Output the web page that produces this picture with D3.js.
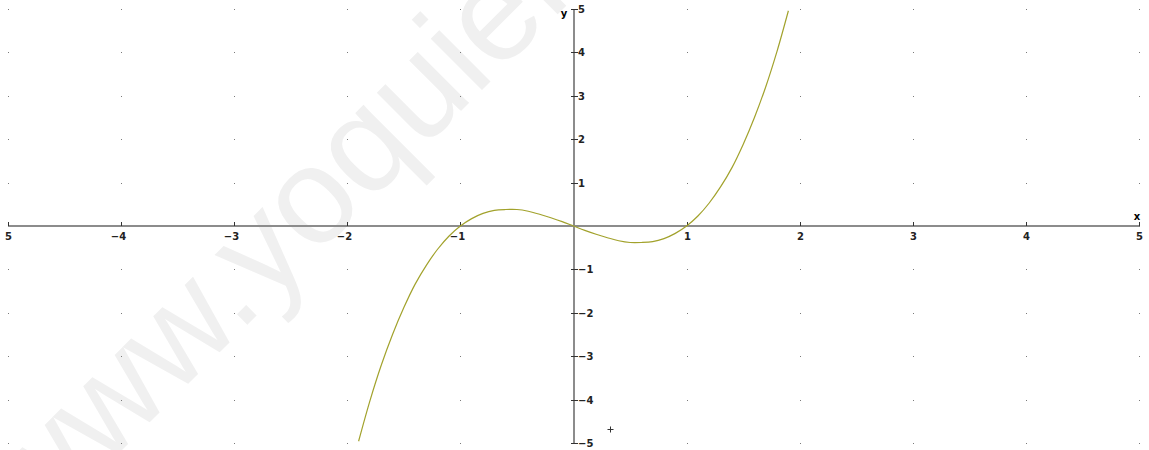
<!DOCTYPE html>
<html>
<head>
<meta charset="utf-8">
<script src="https://cdn.jsdelivr.net/npm/d3@7"></script>
<style>
  body { margin: 0; background: #fff; }
  svg text { font-family: "DejaVu Sans", sans-serif; }
</style>
</head>
<body>
<script>
var curveX = [-1.9, -1.8, -1.7, -1.6, -1.5, -1.4, -1.3, -1.2, -1.1, -1.0,
              -0.9, -0.8, -0.7, -0.6, -0.5, -0.4, -0.3, -0.2, -0.1, 0.0,
              0.1, 0.2, 0.3, 0.4, 0.5, 0.6, 0.7, 0.8, 0.9, 1.0,
              1.1, 1.2, 1.3, 1.4, 1.5, 1.6, 1.7, 1.8, 1.9];
var curveY = [-4.96, -4.03, -3.21, -2.50, -1.88, -1.34, -0.90, -0.53, -0.23, 0.0,
              0.17, 0.29, 0.36, 0.38, 0.38, 0.34, 0.27, 0.19, 0.10, 0.0,
              -0.10, -0.19, -0.27, -0.34, -0.38, -0.38, -0.36, -0.29, -0.17, 0.0,
              0.23, 0.53, 0.90, 1.34, 1.88, 2.50, 3.21, 4.03, 4.96];
var xTicks = [-5, -4, -3, -2, -1, 1, 2, 3, 4, 5];
var yTicks = [-5, -4, -3, -2, -1, 1, 2, 3, 4, 5];
var gridValues = [-5, -4, -3, -2, -1, 0, 1, 2, 3, 4, 5];
var markerPoint = [0.32, -4.67];

var width = 1149,
    height = 450,
    axisColor = "#8c8c8c",
    curveColor = "#a2a22c";

var svg = d3.select("body").append("svg")
            .attr("width", width)
            .attr("height", height);

var x = d3.scaleLinear().domain([-5, 5]).range([8, 1139]);
var y = d3.scaleLinear().domain([-5, 5]).range([443, 9]);

// watermark
svg.append("text")
   .attr("transform", "translate(34,538) rotate(-45)")
   .style("font-size", "137px")
   .style("font-family", "Liberation Sans, Arial, sans-serif")
   .style("fill", "#f0f0f0")
   .text("www.yoquiero");

// grid dots
gridValues.forEach(function(gx) {
    gridValues.forEach(function(gy) {
        svg.append("rect")
           .attr("x", Math.round(x(gx)))
           .attr("y", Math.round(y(gy)))
           .attr("width", 1)
           .attr("height", 1)
           .style("fill", "#7a7a7a");
    });
});

// x axis
var y0 = Math.round(y(0));
svg.append("line")
   .attr("x1", x(-5)).attr("x2", x(5))
   .attr("y1", y0).attr("y2", y0)
   .style("stroke", axisColor)
   .style("stroke-width", 2);

var xTick = svg.selectAll(".xTick")
               .data(xTicks)
               .enter()
               .append("g")
               .attr("class", "xTick")
               .attr("transform", function(d) {return "translate(" + (Math.round(x(d)) + 0.5) + "," + y0 + ")"; });

xTick.append("line")
     .attr("y1", -4).attr("y2", 0)
     .style("stroke", "#333");

xTick.append("text")
     .attr("y", 14)
     .attr("x", function(d) {return d < 0 && d !== -5 ? -3 : 0; })
     .attr("text-anchor", "middle")
     .style("font-size", "10px")
     .style("font-weight", "bold")
     .style("fill", "#222")
     .text(function(d) {return d === -5 ? "5" : (d < 0 ? "\u2212" + (-d) : d); });

// y axis
var x0 = Math.round(x(0));
svg.append("line")
   .attr("x1", x0).attr("x2", x0)
   .attr("y1", y(5)).attr("y2", y(-5))
   .style("stroke", axisColor)
   .style("stroke-width", 2);

var yTick = svg.selectAll(".yTick")
               .data(yTicks)
               .enter()
               .append("g")
               .attr("class", "yTick")
               .attr("transform", function(d) {return "translate(" + x0 + "," + (Math.round(y(d)) + 0.5) + ")"; });

yTick.append("line")
     .attr("x1", -3).attr("x2", 4)
     .style("stroke", "#333");

yTick.append("text")
     .attr("x", 4)
     .attr("dy", "0.35em")
     .style("font-size", "10px")
     .style("font-weight", "bold")
     .style("fill", "#222")
     .text(function(d) {return d < 0 ? "\u2212" + (-d) : d; });

// axis names
svg.append("text")
   .attr("x", 1137).attr("y", 220)
   .attr("text-anchor", "middle")
   .style("font-size", "10px")
   .style("font-weight", "bold")
   .text("x");

svg.append("text")
   .attr("x", 564).attr("y", 17)
   .attr("text-anchor", "middle")
   .style("font-size", "10px")
   .style("font-weight", "bold")
   .text("y");

// the curve
var points = curveX.map(function(d, i) {return [d, curveY[i]]; });

svg.append("path")
   .datum(points)
   .attr("d", d3.line()
                .x(function(d) {return x(d[0]); })
                .y(function(d) {return y(d[1]); })
                .curve(d3.curveCatmullRom))
   .style("fill", "none")
   .style("stroke", curveColor)
   .style("stroke-width", 1.2);

// small cross marker
var marker = svg.append("g")
                .attr("transform", "translate(" + (Math.round(x(markerPoint[0])) + 0.5) + "," + (Math.round(y(markerPoint[1])) + 0.5) + ")");
marker.append("line").attr("x1", -3).attr("x2", 3).style("stroke", "#333");
marker.append("line").attr("y1", -3).attr("y2", 3).style("stroke", "#333");
</script>
</body>
</html>
